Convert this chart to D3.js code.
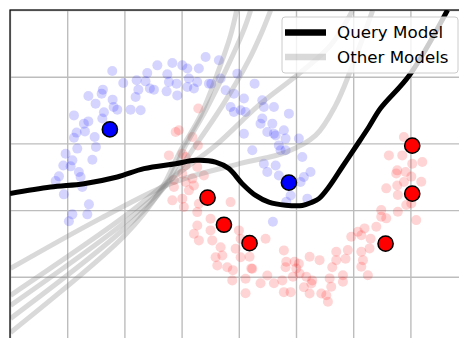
<!DOCTYPE html>
<html>
<head>
<meta charset="utf-8">
<script src="https://cdn.jsdelivr.net/npm/d3@7"></script>
<style>
  html, body { margin: 0; padding: 0; background: #fff; }
  svg { display: block; }
</style>
</head>
<body>
<svg id="chart" width="459" height="338"></svg>
<script>
// Two-moons training data (faint) and the labelled query points (outlined).
const blueMoon = [
  [-0.606,1.043],[-0.510,0.953],[-0.688,0.903],[-0.699,0.873],[-0.815,0.855],[-0.752,0.798],
  [-0.603,0.828],[-0.594,0.773],[-0.562,0.753],[-0.679,0.733],[-0.941,0.710],[-0.815,0.665],
  [-0.854,0.648],[-0.693,0.686],[-0.918,0.581],[-0.845,0.590],[-0.941,0.543],[-0.760,0.548],
  [-0.912,0.461],[-0.749,0.473],[-0.780,0.378],[-1.014,0.423],[-0.955,0.373],[-1.034,0.335],
  [-0.970,0.328],[-0.898,0.285],[-0.883,0.248],[-1.072,0.253],[-1.101,0.218],[-0.868,0.173],
  [-1.029,0.118],[-0.810,0.043],[-0.824,-0.032],[-0.955,-0.032],[-0.985,-0.083],[-0.446,0.753],
  [-0.358,0.748],[-0.402,0.848],[-0.378,0.903],[-0.393,0.973],[-0.300,1.028],[-0.315,0.965],
  [-0.277,0.911],[-0.242,0.903],[-0.212,1.085],[-0.125,1.018],[-0.111,0.960],[-0.131,0.890],
  [-0.081,1.103],[-0.038,0.860],[-0.044,0.948],[0.210,1.148],[0.326,1.123],[0.006,1.085],
  [0.050,1.061],[0.151,1.061],[0.064,0.986],[0.050,0.923],[0.137,0.960],[0.239,0.948],
  [0.341,0.986],[0.385,0.898],[0.487,1.023],[0.457,0.873],[0.545,0.836],[0.428,0.773],
  [0.516,0.748],[0.457,0.735],[0.559,0.735],[0.638,0.948],[0.705,0.823],[0.719,0.773],
  [0.807,0.773],[0.705,0.686],[0.793,0.648],[0.938,0.723],[0.545,0.573],[0.749,0.585],
  [0.822,0.560],[0.894,0.598],[0.909,0.536],[0.850,0.485],[0.909,0.448],[1.025,0.536],
  [1.055,0.398],[0.618,0.448],[0.719,0.348],[0.822,0.335],[0.749,0.285],[0.850,0.260],
  [1.069,0.248],[1.040,0.210],[0.953,0.110],[1.099,0.086],[0.798,-0.087],[0.915,0.063],
  [1.127,0.285],[0.108,0.911],[0.260,0.948],[0.690,0.648],[0.807,0.573],[0.865,0.448]
];

const redMoon = [
  [-0.052,0.585],[0.146,0.761],[0.142,0.485],[-0.111,0.410],[0.035,0.398],[-0.024,0.598],
  [0.094,0.548],[0.006,0.423],[0.137,0.323],[0.035,0.335],[0.006,0.273],[0.094,0.236],
  [0.195,0.260],[0.108,0.185],[-0.067,0.225],[-0.067,0.173],[0.035,0.210],[0.064,0.148],
  [-0.081,0.073],[0.006,0.086],[0.020,0.023],[0.151,0.048],[0.137,-0.015],[0.428,0.060],
  [0.253,-0.065],[0.137,-0.115],[0.108,-0.177],[0.253,-0.152],[0.151,-0.227],[0.268,-0.227],
  [0.341,-0.278],[0.501,-0.152],[0.516,-0.215],[0.734,-0.215],[0.472,-0.290],[0.356,-0.340],
  [0.297,-0.353],[0.516,-0.353],[0.399,-0.428],[0.312,-0.415],[0.443,-0.527],[0.559,-0.515],
  [0.618,-0.440],[0.559,-0.623],[0.690,-0.548],[0.749,-0.490],[0.807,-0.548],[0.880,-0.527],
  [0.909,-0.428],[0.894,-0.615],[0.894,-0.302],[0.594,-0.350],[0.609,-0.437],[0.448,-0.450],
  [0.915,-0.387],[0.988,-0.387],[1.002,-0.437],[1.031,-0.475],[0.973,-0.500],[1.090,-0.500],
  [1.119,-0.350],[1.206,-0.375],[1.134,-0.550],[1.119,-0.625],[1.221,-0.625],[1.265,-0.638],
  [1.279,-0.687],[1.294,-0.512],[1.308,-0.575],[1.352,-0.312],[1.352,-0.375],[1.410,-0.488],
  [1.410,-0.537],[1.453,-0.300],[1.483,-0.200],[1.571,-0.188],[1.599,-0.137],[1.541,-0.162],
  [1.571,-0.312],[1.585,-0.375],[1.571,-0.425],[1.628,-0.488],[1.643,-0.287],[1.702,-0.125],
  [1.745,0.000],[1.745,-0.050],[1.789,-0.062],[1.789,0.163],[1.890,-0.012],[1.890,0.113],
  [1.964,0.038],[2.008,0.050],[2.051,-0.075],[1.876,0.275],[2.008,0.251],[2.095,0.213],
  [1.943,0.548],[1.812,0.410],[1.929,0.410],[2.016,0.348],[2.104,0.360],[1.885,0.298],
  [1.958,0.285],[0.953,-0.615],[1.025,-0.402],[1.069,-0.578],[1.142,-0.527],[1.317,-0.428],
  [1.433,-0.365],[1.652,-0.215],[1.885,0.185],[1.943,0.210]
];

const queryBlue = [[-0.627,0.605],[0.938,0.206]];
const queryRed = [[0.227,0.093],[0.370,-0.110],[0.594,-0.248],[2.016,0.483],[2.016,0.123],[1.783,-0.252]];

// Decision boundary of the model being queried.
const queryBoundary = [
  [-1.500,0.125],[-1.145,0.173],[-0.854,0.198],[-0.562,0.248],[-0.329,0.311],[-0.052,0.348],
  [0.122,0.373],[0.297,0.360],[0.413,0.311],[0.530,0.198],[0.647,0.110],[0.763,0.060],
  [0.909,0.037],[1.055,0.035],[1.142,0.060],[1.200,0.086],[1.287,0.173],[1.404,0.323],
  [1.521,0.473],[1.637,0.623],[1.739,0.763],[1.993,1.013],[2.325,1.500]
];

// Decision boundaries of the other models in the ensemble.
const otherBoundaries = [
  [[-1.495,-0.917],[-0.498,-0.190],[-0.184,0.148],[-0.009,0.448],[0.166,0.710],[0.323,1.047],[0.428,1.310],[0.481,1.497]],
  [[-1.495,-0.812],[-0.498,-0.137],[-0.140,0.185],[0.035,0.485],[0.210,0.747],[0.385,1.047],[0.542,1.347],[0.603,1.497]],
  [[-1.495,-0.714],[-0.498,-0.092],[-0.096,0.223],[0.122,0.485],[0.358,0.785],[0.586,1.122],[0.708,1.347],[0.778,1.497]],
  [[-1.495,-0.639],[-0.498,-0.047],[-0.052,0.260],[0.297,0.485],[0.673,0.785],[1.040,1.032],[1.302,1.235],[1.495,1.497]],
  [[-1.495,-0.437],[-0.708,-0.062],[-0.070,0.208],[0.516,0.350],[0.909,0.433],[1.171,0.560],[1.346,0.785],[1.477,1.047],[1.608,1.347],[1.670,1.497]]
];

const xTicks = [-1.5,-1,-0.5,0,0.5,1,1.5,2,2.5];
const yTicks = [-1,-0.5,0,0.5,1,1.5];
const legendLabels = ["Query Model","Other Models"];

const svg = d3.select("#chart");
const padL = 10, padT = 10;
const x = d3.scaleLinear().domain([-1.5, 2.5]).range([padL, padL + 457.6]);
const y = d3.scaleLinear().domain([-1, 1.5]).range([padT + 333.5, padT]);
const plotW = x.range()[1] - padL, plotH = y.range()[0] - padT;

svg.append("defs").append("clipPath").attr("id", "plot-clip")
  .append("rect").attr("x", padL).attr("y", padT).attr("width", plotW).attr("height", plotH);

// Grid lines from the axes, without tick labels.
const gridX = svg.append("g").attr("transform", `translate(0,${y.range()[0]})`)
  .call(d3.axisBottom(x).tickValues(xTicks).tickSize(-plotH).tickFormat(""));
const gridY = svg.append("g").attr("transform", `translate(${padL},0)`)
  .call(d3.axisLeft(y).tickValues(yTicks).tickSize(-plotW).tickFormat(""));
[gridX, gridY].forEach(g => {
  g.select(".domain").remove();
  g.selectAll(".tick line").attr("stroke", "#bdbdbd").attr("stroke-width", 1.4);
});

const plot = svg.append("g").attr("clip-path", "url(#plot-clip)");

plot.append("g").selectAll("circle").data(blueMoon).join("circle")
  .attr("cx", d => x(d[0])).attr("cy", d => y(d[1])).attr("r", 5)
  .attr("fill", "blue").attr("fill-opacity", 0.17);
plot.append("g").selectAll("circle").data(redMoon).join("circle")
  .attr("cx", d => x(d[0])).attr("cy", d => y(d[1])).attr("r", 5)
  .attr("fill", "red").attr("fill-opacity", 0.17);

const line = d3.line().x(d => x(d[0])).y(d => y(d[1])).curve(d3.curveCatmullRom.alpha(0.5));

plot.append("g").selectAll("path").data(otherBoundaries).join("path")
  .attr("d", line).attr("fill", "none")
  .attr("stroke", "gray").attr("stroke-opacity", 0.3).attr("stroke-width", 5);

plot.append("path").datum(queryBoundary).attr("d", line)
  .attr("fill", "none").attr("stroke", "black").attr("stroke-width", 5);

plot.append("g").selectAll("circle").data(queryBlue).join("circle")
  .attr("cx", d => x(d[0])).attr("cy", d => y(d[1])).attr("r", 7.6)
  .attr("fill", "blue").attr("stroke", "black").attr("stroke-width", 1.5);
plot.append("g").selectAll("circle").data(queryRed).join("circle")
  .attr("cx", d => x(d[0])).attr("cy", d => y(d[1])).attr("r", 7.6)
  .attr("fill", "red").attr("stroke", "black").attr("stroke-width", 1.5);

// Frame
svg.append("rect").attr("x", padL).attr("y", padT).attr("width", plotW).attr("height", plotH)
  .attr("fill", "none").attr("stroke", "black").attr("stroke-width", 1.2);

// Legend
const lg = svg.append("g").attr("transform", "translate(282,17)");
lg.append("rect").attr("width", 176).attr("height", 56).attr("rx", 3)
  .attr("fill", "white").attr("fill-opacity", 0.8).attr("stroke", "#cccccc").attr("stroke-width", 1);
const legendStyles = [
  {stroke: "black", opacity: 1},
  {stroke: "gray", opacity: 0.3}
];
legendLabels.forEach((label, i) => {
  const cy = 15.5 + i * 24.5;
  lg.append("line").attr("x1", 3).attr("x2", 44).attr("y1", cy).attr("y2", cy)
    .attr("stroke", legendStyles[i].stroke).attr("stroke-opacity", legendStyles[i].opacity)
    .attr("stroke-width", 6.5);
  lg.append("text").attr("x", 55).attr("y", cy).attr("dy", "0.35em")
    .attr("font-family", "DejaVu Sans, sans-serif").attr("font-size", 16.7)
    .attr("fill", "black").text(label);
});
</script>
</body>
</html>
